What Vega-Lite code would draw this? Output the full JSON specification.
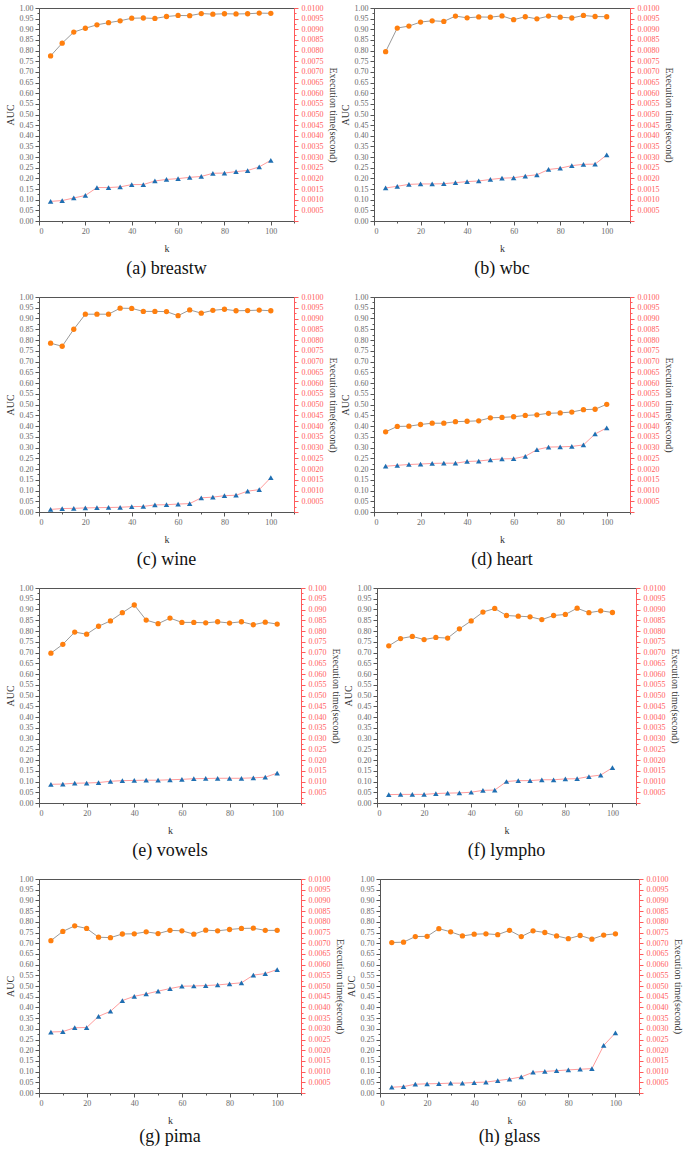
{
  "$schema": "https://vega.github.io/schema/vega-lite/v6.json",
  "padding": {"left": 4, "top": 3, "right": 2, "bottom": 0},
  "background": "white",
  "spacing": 13,
  "config": {
    "font": "Liberation Serif",
    "view": {"stroke": "#555", "strokeWidth": 1},
    "axis": {"grid": false, "labelFont": "Liberation Serif", "titleFont": "Liberation Serif", "labelFontSize": 8, "titleFontSize": 10, "titleFontWeight": "normal", "domainColor": "#555", "tickColor": "#555", "labelColor": "#6a6a6a", "titleColor": "#333", "labelPadding": 2},
    "axisBottom": {"labelColor": "#6a6a6a", "titleColor": "#333"},
    "axisRight": {"domainColor": "#ff5a5a", "tickColor": "#ff5a5a", "labelColor": "#ff6060", "titleColor": "#333", "labelPadding": 3},
    "title": {"font": "Liberation Serif", "fontSize": 18, "fontWeight": "normal", "color": "#111"}
  },
  "datasets": {
    "breastw": [
      {"k":5,"auc":0.775,"time":0.00092},{"k":10,"auc":0.835,"time":0.00096},{"k":15,"auc":0.887,"time":0.00108},{"k":20,"auc":0.905,"time":0.0012},{"k":25,"auc":0.921,"time":0.00157},{"k":30,"auc":0.931,"time":0.00157},{"k":35,"auc":0.94,"time":0.0016},{"k":40,"auc":0.952,"time":0.00171},{"k":45,"auc":0.953,"time":0.00171},{"k":50,"auc":0.951,"time":0.00188},{"k":55,"auc":0.96,"time":0.00195},{"k":60,"auc":0.965,"time":0.00199},{"k":65,"auc":0.964,"time":0.00205},{"k":70,"auc":0.974,"time":0.00209},{"k":75,"auc":0.971,"time":0.00224},{"k":80,"auc":0.973,"time":0.00225},{"k":85,"auc":0.972,"time":0.00232},{"k":90,"auc":0.973,"time":0.00237},{"k":95,"auc":0.976,"time":0.00254},{"k":100,"auc":0.975,"time":0.00285}
    ],
    "wbc": [
      {"k":5,"auc":0.795,"time":0.00155},{"k":10,"auc":0.906,"time":0.00163},{"k":15,"auc":0.915,"time":0.00172},{"k":20,"auc":0.934,"time":0.00174},{"k":25,"auc":0.94,"time":0.00174},{"k":30,"auc":0.937,"time":0.00175},{"k":35,"auc":0.962,"time":0.0018},{"k":40,"auc":0.954,"time":0.00185},{"k":45,"auc":0.958,"time":0.00188},{"k":50,"auc":0.957,"time":0.00195},{"k":55,"auc":0.963,"time":0.00201},{"k":60,"auc":0.945,"time":0.00203},{"k":65,"auc":0.959,"time":0.00211},{"k":70,"auc":0.949,"time":0.00217},{"k":75,"auc":0.962,"time":0.00242},{"k":80,"auc":0.957,"time":0.00248},{"k":85,"auc":0.953,"time":0.0026},{"k":90,"auc":0.965,"time":0.00266},{"k":95,"auc":0.96,"time":0.00267},{"k":100,"auc":0.959,"time":0.0031}
    ],
    "wine": [
      {"k":5,"auc":0.785,"time":0.00012},{"k":10,"auc":0.771,"time":0.00016},{"k":15,"auc":0.85,"time":0.00017},{"k":20,"auc":0.92,"time":0.00019},{"k":25,"auc":0.92,"time":0.0002},{"k":30,"auc":0.92,"time":0.00021},{"k":35,"auc":0.948,"time":0.00022},{"k":40,"auc":0.947,"time":0.00025},{"k":45,"auc":0.933,"time":0.00026},{"k":50,"auc":0.933,"time":0.00033},{"k":55,"auc":0.932,"time":0.00034},{"k":60,"auc":0.913,"time":0.00037},{"k":65,"auc":0.94,"time":0.00039},{"k":70,"auc":0.925,"time":0.00066},{"k":75,"auc":0.938,"time":0.00069},{"k":80,"auc":0.943,"time":0.00076},{"k":85,"auc":0.936,"time":0.00078},{"k":90,"auc":0.937,"time":0.00097},{"k":95,"auc":0.939,"time":0.00104},{"k":100,"auc":0.936,"time":0.0016}
    ],
    "heart": [
      {"k":5,"auc":0.373,"time":0.00213},{"k":10,"auc":0.398,"time":0.00217},{"k":15,"auc":0.399,"time":0.00221},{"k":20,"auc":0.407,"time":0.00223},{"k":25,"auc":0.413,"time":0.00226},{"k":30,"auc":0.413,"time":0.00227},{"k":35,"auc":0.42,"time":0.00227},{"k":40,"auc":0.422,"time":0.00235},{"k":45,"auc":0.424,"time":0.00237},{"k":50,"auc":0.438,"time":0.00243},{"k":55,"auc":0.44,"time":0.00247},{"k":60,"auc":0.443,"time":0.00248},{"k":65,"auc":0.449,"time":0.00259},{"k":70,"auc":0.452,"time":0.0029},{"k":75,"auc":0.459,"time":0.00302},{"k":80,"auc":0.461,"time":0.00303},{"k":85,"auc":0.465,"time":0.00305},{"k":90,"auc":0.476,"time":0.00312},{"k":95,"auc":0.478,"time":0.00363},{"k":100,"auc":0.501,"time":0.00391}
    ],
    "vowels": [
      {"k":5,"auc":0.697,"time":0.0087},{"k":10,"auc":0.738,"time":0.0088},{"k":15,"auc":0.795,"time":0.0092},{"k":20,"auc":0.785,"time":0.0093},{"k":25,"auc":0.822,"time":0.0095},{"k":30,"auc":0.847,"time":0.0101},{"k":35,"auc":0.885,"time":0.0104},{"k":40,"auc":0.921,"time":0.0105},{"k":45,"auc":0.851,"time":0.0106},{"k":50,"auc":0.834,"time":0.0106},{"k":55,"auc":0.86,"time":0.0108},{"k":60,"auc":0.84,"time":0.011},{"k":65,"auc":0.84,"time":0.0113},{"k":70,"auc":0.838,"time":0.0114},{"k":75,"auc":0.843,"time":0.0115},{"k":80,"auc":0.837,"time":0.0115},{"k":85,"auc":0.843,"time":0.0115},{"k":90,"auc":0.829,"time":0.0117},{"k":95,"auc":0.841,"time":0.012},{"k":100,"auc":0.832,"time":0.0139}
    ],
    "lympho": [
      {"k":5,"auc":0.731,"time":0.00039},{"k":10,"auc":0.765,"time":0.0004},{"k":15,"auc":0.775,"time":0.0004},{"k":20,"auc":0.76,"time":0.0004},{"k":25,"auc":0.77,"time":0.00044},{"k":30,"auc":0.767,"time":0.00046},{"k":35,"auc":0.81,"time":0.00047},{"k":40,"auc":0.847,"time":0.0005},{"k":45,"auc":0.888,"time":0.00059},{"k":50,"auc":0.905,"time":0.0006},{"k":55,"auc":0.872,"time":0.001},{"k":60,"auc":0.869,"time":0.00104},{"k":65,"auc":0.866,"time":0.00104},{"k":70,"auc":0.853,"time":0.00108},{"k":75,"auc":0.872,"time":0.00108},{"k":80,"auc":0.877,"time":0.00112},{"k":85,"auc":0.906,"time":0.00113},{"k":90,"auc":0.885,"time":0.00123},{"k":95,"auc":0.894,"time":0.0013},{"k":100,"auc":0.886,"time":0.00164}
    ],
    "pima": [
      {"k":5,"auc":0.712,"time":0.00285},{"k":10,"auc":0.755,"time":0.00287},{"k":15,"auc":0.781,"time":0.00305},{"k":20,"auc":0.769,"time":0.00306},{"k":25,"auc":0.728,"time":0.00358},{"k":30,"auc":0.726,"time":0.00382},{"k":35,"auc":0.743,"time":0.00432},{"k":40,"auc":0.744,"time":0.00452},{"k":45,"auc":0.753,"time":0.00463},{"k":50,"auc":0.745,"time":0.00476},{"k":55,"auc":0.76,"time":0.00488},{"k":60,"auc":0.758,"time":0.00499},{"k":65,"auc":0.742,"time":0.005},{"k":70,"auc":0.761,"time":0.00502},{"k":75,"auc":0.758,"time":0.00505},{"k":80,"auc":0.764,"time":0.0051},{"k":85,"auc":0.769,"time":0.00515},{"k":90,"auc":0.77,"time":0.00551},{"k":95,"auc":0.76,"time":0.00558},{"k":100,"auc":0.76,"time":0.00577}
    ],
    "glass": [
      {"k":5,"auc":0.703,"time":0.00027},{"k":10,"auc":0.705,"time":0.0003},{"k":15,"auc":0.731,"time":0.00041},{"k":20,"auc":0.732,"time":0.00043},{"k":25,"auc":0.768,"time":0.00044},{"k":30,"auc":0.753,"time":0.00046},{"k":35,"auc":0.734,"time":0.00046},{"k":40,"auc":0.742,"time":0.00049},{"k":45,"auc":0.744,"time":0.00051},{"k":50,"auc":0.74,"time":0.00058},{"k":55,"auc":0.76,"time":0.00065},{"k":60,"auc":0.731,"time":0.00075},{"k":65,"auc":0.758,"time":0.00097},{"k":70,"auc":0.75,"time":0.00101},{"k":75,"auc":0.734,"time":0.00104},{"k":80,"auc":0.721,"time":0.00108},{"k":85,"auc":0.736,"time":0.00111},{"k":90,"auc":0.719,"time":0.00114},{"k":95,"auc":0.738,"time":0.00222},{"k":100,"auc":0.744,"time":0.00281}
    ]
  },
  "vconcat": [
    {"spacing": 1, "hconcat": [
      {"title": {"text": "(a) breastw", "orient": "bottom", "offset": 7}, "width": 255, "height": 213, "data": {"name": "breastw"},
       "encoding": {"x": {"field": "k", "type": "quantitative", "scale": {"domain": [0, 110], "nice": false}, "axis": {"title": "k", "titlePadding": 8, "values": [0,10,20,30,40,50,60,70,80,90,100,110], "labelExpr": "datum.value % 20 == 0 && datum.value <= 100 ? datum.value : ''", "tickSize": {"condition": {"test": "datum.value % 20 == 0", "value": 4}, "value": 2}}}},
       "layer": [
        {"encoding": {
           "y": {"field": "auc", "type": "quantitative", "scale": {"domain": [0, 1], "nice": false}, "axis": {"title": "AUC", "titlePadding": 4, "values": [0,0.025,0.05,0.075,0.1,0.125,0.15,0.175,0.2,0.225,0.25,0.275,0.3,0.325,0.35,0.375,0.4,0.425,0.45,0.475,0.5,0.525,0.55,0.575,0.6,0.625,0.65,0.675,0.7,0.725,0.75,0.775,0.8,0.825,0.85,0.875,0.9,0.925,0.95,0.975,1], "labelExpr": "round(datum.value*40) % 2 == 0 ? format(datum.value, '.2f') : ''", "tickSize": {"condition": {"test": "round(datum.value*40) % 2 == 0", "value": 4}, "value": 2}}}},
         "layer": [
           {"mark": {"type": "line", "color": "#9a9a9a", "strokeWidth": 1}, "encoding": {}},
           {"mark": {"type": "point", "shape": "circle", "filled": true, "color": "#ff7f0e", "size": 28, "opacity": 1}, "encoding": {}}
         ]},
        {"encoding": {
           "y": {"field": "time", "type": "quantitative", "scale": {"domain": [0, 0.01], "nice": false}, "axis": {"orient": "right", "title": "Execution time(second)", "titlePadding": 4, "values": [0,0.00025,0.0005,0.00075,0.001,0.00125,0.0015,0.00175,0.002,0.00225,0.0025,0.00275,0.003,0.00325,0.0035,0.00375,0.004,0.00425,0.0045,0.00475,0.005,0.00525,0.0055,0.00575,0.006,0.00625,0.0065,0.00675,0.007,0.00725,0.0075,0.00775,0.008,0.00825,0.0085,0.00875,0.009,0.00925,0.0095,0.00975,0.01], "labelExpr": "round(datum.value*4000) % 2 == 0 && datum.value > 0 ? format(datum.value, '.4f') : ''", "tickSize": {"condition": {"test": "round(datum.value*4000) % 2 == 0", "value": 4}, "value": 2}}}},
         "layer": [
           {"mark": {"type": "line", "color": "#ff9c9c", "strokeWidth": 1}, "encoding": {}},
           {"mark": {"type": "point", "shape": "triangle-up", "filled": true, "color": "#1f6fb2", "size": 30, "opacity": 1}, "encoding": {}}
         ]}
       ],
       "resolve": {"scale": {"y": "independent"}}},
      {"title": {"text": "(b) wbc", "orient": "bottom", "offset": 7}, "width": 256, "height": 213, "data": {"name": "wbc"},
       "encoding": {"x": {"field": "k", "type": "quantitative", "scale": {"domain": [0, 110], "nice": false}, "axis": {"title": "k", "titlePadding": 8, "values": [0,10,20,30,40,50,60,70,80,90,100,110], "labelExpr": "datum.value % 20 == 0 && datum.value <= 100 ? datum.value : ''", "tickSize": {"condition": {"test": "datum.value % 20 == 0", "value": 4}, "value": 2}}}},
       "layer": [
        {"encoding": {
           "y": {"field": "auc", "type": "quantitative", "scale": {"domain": [0, 1], "nice": false}, "axis": {"title": "AUC", "titlePadding": 4, "values": [0,0.025,0.05,0.075,0.1,0.125,0.15,0.175,0.2,0.225,0.25,0.275,0.3,0.325,0.35,0.375,0.4,0.425,0.45,0.475,0.5,0.525,0.55,0.575,0.6,0.625,0.65,0.675,0.7,0.725,0.75,0.775,0.8,0.825,0.85,0.875,0.9,0.925,0.95,0.975,1], "labelExpr": "round(datum.value*40) % 2 == 0 ? format(datum.value, '.2f') : ''", "tickSize": {"condition": {"test": "round(datum.value*40) % 2 == 0", "value": 4}, "value": 2}}}},
         "layer": [
           {"mark": {"type": "line", "color": "#9a9a9a", "strokeWidth": 1}, "encoding": {}},
           {"mark": {"type": "point", "shape": "circle", "filled": true, "color": "#ff7f0e", "size": 28, "opacity": 1}, "encoding": {}}
         ]},
        {"encoding": {
           "y": {"field": "time", "type": "quantitative", "scale": {"domain": [0, 0.01], "nice": false}, "axis": {"orient": "right", "title": "Execution time(second)", "titlePadding": 4, "values": [0,0.00025,0.0005,0.00075,0.001,0.00125,0.0015,0.00175,0.002,0.00225,0.0025,0.00275,0.003,0.00325,0.0035,0.00375,0.004,0.00425,0.0045,0.00475,0.005,0.00525,0.0055,0.00575,0.006,0.00625,0.0065,0.00675,0.007,0.00725,0.0075,0.00775,0.008,0.00825,0.0085,0.00875,0.009,0.00925,0.0095,0.00975,0.01], "labelExpr": "round(datum.value*4000) % 2 == 0 && datum.value > 0 ? format(datum.value, '.4f') : ''", "tickSize": {"condition": {"test": "round(datum.value*4000) % 2 == 0", "value": 4}, "value": 2}}}},
         "layer": [
           {"mark": {"type": "line", "color": "#ff9c9c", "strokeWidth": 1}, "encoding": {}},
           {"mark": {"type": "point", "shape": "triangle-up", "filled": true, "color": "#1f6fb2", "size": 30, "opacity": 1}, "encoding": {}}
         ]}
       ],
       "resolve": {"scale": {"y": "independent"}}}
    ]},
    {"spacing": 1, "hconcat": [
      {"title": {"text": "(c) wine", "orient": "bottom", "offset": 7}, "width": 255, "height": 215, "data": {"name": "wine"},
       "encoding": {"x": {"field": "k", "type": "quantitative", "scale": {"domain": [0, 110], "nice": false}, "axis": {"title": "k", "titlePadding": 8, "values": [0,10,20,30,40,50,60,70,80,90,100,110], "labelExpr": "datum.value % 20 == 0 && datum.value <= 100 ? datum.value : ''", "tickSize": {"condition": {"test": "datum.value % 20 == 0", "value": 4}, "value": 2}}}},
       "layer": [
        {"encoding": {
           "y": {"field": "auc", "type": "quantitative", "scale": {"domain": [0, 1], "nice": false}, "axis": {"title": "AUC", "titlePadding": 4, "values": [0,0.025,0.05,0.075,0.1,0.125,0.15,0.175,0.2,0.225,0.25,0.275,0.3,0.325,0.35,0.375,0.4,0.425,0.45,0.475,0.5,0.525,0.55,0.575,0.6,0.625,0.65,0.675,0.7,0.725,0.75,0.775,0.8,0.825,0.85,0.875,0.9,0.925,0.95,0.975,1], "labelExpr": "round(datum.value*40) % 2 == 0 ? format(datum.value, '.2f') : ''", "tickSize": {"condition": {"test": "round(datum.value*40) % 2 == 0", "value": 4}, "value": 2}}}},
         "layer": [
           {"mark": {"type": "line", "color": "#9a9a9a", "strokeWidth": 1}, "encoding": {}},
           {"mark": {"type": "point", "shape": "circle", "filled": true, "color": "#ff7f0e", "size": 28, "opacity": 1}, "encoding": {}}
         ]},
        {"encoding": {
           "y": {"field": "time", "type": "quantitative", "scale": {"domain": [0, 0.01], "nice": false}, "axis": {"orient": "right", "title": "Execution time(second)", "titlePadding": 4, "values": [0,0.00025,0.0005,0.00075,0.001,0.00125,0.0015,0.00175,0.002,0.00225,0.0025,0.00275,0.003,0.00325,0.0035,0.00375,0.004,0.00425,0.0045,0.00475,0.005,0.00525,0.0055,0.00575,0.006,0.00625,0.0065,0.00675,0.007,0.00725,0.0075,0.00775,0.008,0.00825,0.0085,0.00875,0.009,0.00925,0.0095,0.00975,0.01], "labelExpr": "round(datum.value*4000) % 2 == 0 && datum.value > 0 ? format(datum.value, '.4f') : ''", "tickSize": {"condition": {"test": "round(datum.value*4000) % 2 == 0", "value": 4}, "value": 2}}}},
         "layer": [
           {"mark": {"type": "line", "color": "#ff9c9c", "strokeWidth": 1}, "encoding": {}},
           {"mark": {"type": "point", "shape": "triangle-up", "filled": true, "color": "#1f6fb2", "size": 30, "opacity": 1}, "encoding": {}}
         ]}
       ],
       "resolve": {"scale": {"y": "independent"}}},
      {"title": {"text": "(d) heart", "orient": "bottom", "offset": 7}, "width": 256, "height": 215, "data": {"name": "heart"},
       "encoding": {"x": {"field": "k", "type": "quantitative", "scale": {"domain": [0, 110], "nice": false}, "axis": {"title": "k", "titlePadding": 8, "values": [0,10,20,30,40,50,60,70,80,90,100,110], "labelExpr": "datum.value % 20 == 0 && datum.value <= 100 ? datum.value : ''", "tickSize": {"condition": {"test": "datum.value % 20 == 0", "value": 4}, "value": 2}}}},
       "layer": [
        {"encoding": {
           "y": {"field": "auc", "type": "quantitative", "scale": {"domain": [0, 1], "nice": false}, "axis": {"title": "AUC", "titlePadding": 4, "values": [0,0.025,0.05,0.075,0.1,0.125,0.15,0.175,0.2,0.225,0.25,0.275,0.3,0.325,0.35,0.375,0.4,0.425,0.45,0.475,0.5,0.525,0.55,0.575,0.6,0.625,0.65,0.675,0.7,0.725,0.75,0.775,0.8,0.825,0.85,0.875,0.9,0.925,0.95,0.975,1], "labelExpr": "round(datum.value*40) % 2 == 0 ? format(datum.value, '.2f') : ''", "tickSize": {"condition": {"test": "round(datum.value*40) % 2 == 0", "value": 4}, "value": 2}}}},
         "layer": [
           {"mark": {"type": "line", "color": "#9a9a9a", "strokeWidth": 1}, "encoding": {}},
           {"mark": {"type": "point", "shape": "circle", "filled": true, "color": "#ff7f0e", "size": 28, "opacity": 1}, "encoding": {}}
         ]},
        {"encoding": {
           "y": {"field": "time", "type": "quantitative", "scale": {"domain": [0, 0.01], "nice": false}, "axis": {"orient": "right", "title": "Execution time(second)", "titlePadding": 4, "values": [0,0.00025,0.0005,0.00075,0.001,0.00125,0.0015,0.00175,0.002,0.00225,0.0025,0.00275,0.003,0.00325,0.0035,0.00375,0.004,0.00425,0.0045,0.00475,0.005,0.00525,0.0055,0.00575,0.006,0.00625,0.0065,0.00675,0.007,0.00725,0.0075,0.00775,0.008,0.00825,0.0085,0.00875,0.009,0.00925,0.0095,0.00975,0.01], "labelExpr": "round(datum.value*4000) % 2 == 0 && datum.value > 0 ? format(datum.value, '.4f') : ''", "tickSize": {"condition": {"test": "round(datum.value*4000) % 2 == 0", "value": 4}, "value": 2}}}},
         "layer": [
           {"mark": {"type": "line", "color": "#ff9c9c", "strokeWidth": 1}, "encoding": {}},
           {"mark": {"type": "point", "shape": "triangle-up", "filled": true, "color": "#1f6fb2", "size": 30, "opacity": 1}, "encoding": {}}
         ]}
       ],
       "resolve": {"scale": {"y": "independent"}}}
    ]},
    {"spacing": 1, "hconcat": [
      {"title": {"text": "(e) vowels", "orient": "bottom", "offset": 7}, "width": 262, "height": 215, "data": {"name": "vowels"},
       "encoding": {"x": {"field": "k", "type": "quantitative", "scale": {"domain": [0, 110], "nice": false}, "axis": {"title": "k", "titlePadding": 8, "values": [0,10,20,30,40,50,60,70,80,90,100,110], "labelExpr": "datum.value % 20 == 0 && datum.value <= 100 ? datum.value : ''", "tickSize": {"condition": {"test": "datum.value % 20 == 0", "value": 4}, "value": 2}}}},
       "layer": [
        {"encoding": {
           "y": {"field": "auc", "type": "quantitative", "scale": {"domain": [0, 1], "nice": false}, "axis": {"title": "AUC", "titlePadding": 4, "values": [0,0.025,0.05,0.075,0.1,0.125,0.15,0.175,0.2,0.225,0.25,0.275,0.3,0.325,0.35,0.375,0.4,0.425,0.45,0.475,0.5,0.525,0.55,0.575,0.6,0.625,0.65,0.675,0.7,0.725,0.75,0.775,0.8,0.825,0.85,0.875,0.9,0.925,0.95,0.975,1], "labelExpr": "round(datum.value*40) % 2 == 0 ? format(datum.value, '.2f') : ''", "tickSize": {"condition": {"test": "round(datum.value*40) % 2 == 0", "value": 4}, "value": 2}}}},
         "layer": [
           {"mark": {"type": "line", "color": "#9a9a9a", "strokeWidth": 1}, "encoding": {}},
           {"mark": {"type": "point", "shape": "circle", "filled": true, "color": "#ff7f0e", "size": 28, "opacity": 1}, "encoding": {}}
         ]},
        {"encoding": {
           "y": {"field": "time", "type": "quantitative", "scale": {"domain": [0, 0.1], "nice": false}, "axis": {"orient": "right", "title": "Execution time(second)", "titlePadding": 4, "values": [0,0.0025,0.005,0.0075,0.01,0.0125,0.015,0.0175,0.02,0.0225,0.025,0.0275,0.03,0.0325,0.035,0.0375,0.04,0.0425,0.045,0.0475,0.05,0.0525,0.055,0.0575,0.06,0.0625,0.065,0.0675,0.07,0.0725,0.075,0.0775,0.08,0.0825,0.085,0.0875,0.09,0.0925,0.095,0.0975,0.1], "labelExpr": "round(datum.value*400) % 2 == 0 && datum.value > 0 ? format(datum.value, '.3f') : ''", "tickSize": {"condition": {"test": "round(datum.value*400) % 2 == 0", "value": 4}, "value": 2}}}},
         "layer": [
           {"mark": {"type": "line", "color": "#ff9c9c", "strokeWidth": 1}, "encoding": {}},
           {"mark": {"type": "point", "shape": "triangle-up", "filled": true, "color": "#1f6fb2", "size": 30, "opacity": 1}, "encoding": {}}
         ]}
       ],
       "resolve": {"scale": {"y": "independent"}}},
      {"title": {"text": "(f) lympho", "orient": "bottom", "offset": 7}, "width": 259, "height": 215, "data": {"name": "lympho"},
       "encoding": {"x": {"field": "k", "type": "quantitative", "scale": {"domain": [0, 110], "nice": false}, "axis": {"title": "k", "titlePadding": 8, "values": [0,10,20,30,40,50,60,70,80,90,100,110], "labelExpr": "datum.value % 20 == 0 && datum.value <= 100 ? datum.value : ''", "tickSize": {"condition": {"test": "datum.value % 20 == 0", "value": 4}, "value": 2}}}},
       "layer": [
        {"encoding": {
           "y": {"field": "auc", "type": "quantitative", "scale": {"domain": [0, 1], "nice": false}, "axis": {"title": "AUC", "titlePadding": 4, "values": [0,0.025,0.05,0.075,0.1,0.125,0.15,0.175,0.2,0.225,0.25,0.275,0.3,0.325,0.35,0.375,0.4,0.425,0.45,0.475,0.5,0.525,0.55,0.575,0.6,0.625,0.65,0.675,0.7,0.725,0.75,0.775,0.8,0.825,0.85,0.875,0.9,0.925,0.95,0.975,1], "labelExpr": "round(datum.value*40) % 2 == 0 ? format(datum.value, '.2f') : ''", "tickSize": {"condition": {"test": "round(datum.value*40) % 2 == 0", "value": 4}, "value": 2}}}},
         "layer": [
           {"mark": {"type": "line", "color": "#9a9a9a", "strokeWidth": 1}, "encoding": {}},
           {"mark": {"type": "point", "shape": "circle", "filled": true, "color": "#ff7f0e", "size": 28, "opacity": 1}, "encoding": {}}
         ]},
        {"encoding": {
           "y": {"field": "time", "type": "quantitative", "scale": {"domain": [0, 0.01], "nice": false}, "axis": {"orient": "right", "title": "Execution time(second)", "titlePadding": 4, "values": [0,0.00025,0.0005,0.00075,0.001,0.00125,0.0015,0.00175,0.002,0.00225,0.0025,0.00275,0.003,0.00325,0.0035,0.00375,0.004,0.00425,0.0045,0.00475,0.005,0.00525,0.0055,0.00575,0.006,0.00625,0.0065,0.00675,0.007,0.00725,0.0075,0.00775,0.008,0.00825,0.0085,0.00875,0.009,0.00925,0.0095,0.00975,0.01], "labelExpr": "round(datum.value*4000) % 2 == 0 && datum.value > 0 ? format(datum.value, '.4f') : ''", "tickSize": {"condition": {"test": "round(datum.value*4000) % 2 == 0", "value": 4}, "value": 2}}}},
         "layer": [
           {"mark": {"type": "line", "color": "#ff9c9c", "strokeWidth": 1}, "encoding": {}},
           {"mark": {"type": "point", "shape": "triangle-up", "filled": true, "color": "#1f6fb2", "size": 30, "opacity": 1}, "encoding": {}}
         ]}
       ],
       "resolve": {"scale": {"y": "independent"}}}
    ]},
    {"spacing": 0, "hconcat": [
      {"title": {"text": "(g) pima", "orient": "bottom", "offset": 3}, "width": 262, "height": 214, "data": {"name": "pima"},
       "encoding": {"x": {"field": "k", "type": "quantitative", "scale": {"domain": [0, 110], "nice": false}, "axis": {"title": "k", "titlePadding": 8, "values": [0,10,20,30,40,50,60,70,80,90,100,110], "labelExpr": "datum.value % 20 == 0 && datum.value <= 100 ? datum.value : ''", "tickSize": {"condition": {"test": "datum.value % 20 == 0", "value": 4}, "value": 2}}}},
       "layer": [
        {"encoding": {
           "y": {"field": "auc", "type": "quantitative", "scale": {"domain": [0, 1], "nice": false}, "axis": {"title": "AUC", "titlePadding": 4, "values": [0,0.025,0.05,0.075,0.1,0.125,0.15,0.175,0.2,0.225,0.25,0.275,0.3,0.325,0.35,0.375,0.4,0.425,0.45,0.475,0.5,0.525,0.55,0.575,0.6,0.625,0.65,0.675,0.7,0.725,0.75,0.775,0.8,0.825,0.85,0.875,0.9,0.925,0.95,0.975,1], "labelExpr": "round(datum.value*40) % 2 == 0 ? format(datum.value, '.2f') : ''", "tickSize": {"condition": {"test": "round(datum.value*40) % 2 == 0", "value": 4}, "value": 2}}}},
         "layer": [
           {"mark": {"type": "line", "color": "#9a9a9a", "strokeWidth": 1}, "encoding": {}},
           {"mark": {"type": "point", "shape": "circle", "filled": true, "color": "#ff7f0e", "size": 28, "opacity": 1}, "encoding": {}}
         ]},
        {"encoding": {
           "y": {"field": "time", "type": "quantitative", "scale": {"domain": [0, 0.01], "nice": false}, "axis": {"orient": "right", "title": "Execution time(second)", "titlePadding": 4, "values": [0,0.00025,0.0005,0.00075,0.001,0.00125,0.0015,0.00175,0.002,0.00225,0.0025,0.00275,0.003,0.00325,0.0035,0.00375,0.004,0.00425,0.0045,0.00475,0.005,0.00525,0.0055,0.00575,0.006,0.00625,0.0065,0.00675,0.007,0.00725,0.0075,0.00775,0.008,0.00825,0.0085,0.00875,0.009,0.00925,0.0095,0.00975,0.01], "labelExpr": "round(datum.value*4000) % 2 == 0 && datum.value > 0 ? format(datum.value, '.4f') : ''", "tickSize": {"condition": {"test": "round(datum.value*4000) % 2 == 0", "value": 4}, "value": 2}}}},
         "layer": [
           {"mark": {"type": "line", "color": "#ff9c9c", "strokeWidth": 1}, "encoding": {}},
           {"mark": {"type": "point", "shape": "triangle-up", "filled": true, "color": "#1f6fb2", "size": 30, "opacity": 1}, "encoding": {}}
         ]}
       ],
       "resolve": {"scale": {"y": "independent"}}},
      {"title": {"text": "(h) glass", "orient": "bottom", "offset": 3}, "width": 259, "height": 214, "data": {"name": "glass"},
       "encoding": {"x": {"field": "k", "type": "quantitative", "scale": {"domain": [0, 110], "nice": false}, "axis": {"title": "k", "titlePadding": 8, "values": [0,10,20,30,40,50,60,70,80,90,100,110], "labelExpr": "datum.value % 20 == 0 && datum.value <= 100 ? datum.value : ''", "tickSize": {"condition": {"test": "datum.value % 20 == 0", "value": 4}, "value": 2}}}},
       "layer": [
        {"encoding": {
           "y": {"field": "auc", "type": "quantitative", "scale": {"domain": [0, 1], "nice": false}, "axis": {"title": "AUC", "titlePadding": 4, "values": [0,0.025,0.05,0.075,0.1,0.125,0.15,0.175,0.2,0.225,0.25,0.275,0.3,0.325,0.35,0.375,0.4,0.425,0.45,0.475,0.5,0.525,0.55,0.575,0.6,0.625,0.65,0.675,0.7,0.725,0.75,0.775,0.8,0.825,0.85,0.875,0.9,0.925,0.95,0.975,1], "labelExpr": "round(datum.value*40) % 2 == 0 ? format(datum.value, '.2f') : ''", "tickSize": {"condition": {"test": "round(datum.value*40) % 2 == 0", "value": 4}, "value": 2}}}},
         "layer": [
           {"mark": {"type": "line", "color": "#9a9a9a", "strokeWidth": 1}, "encoding": {}},
           {"mark": {"type": "point", "shape": "circle", "filled": true, "color": "#ff7f0e", "size": 28, "opacity": 1}, "encoding": {}}
         ]},
        {"encoding": {
           "y": {"field": "time", "type": "quantitative", "scale": {"domain": [0, 0.01], "nice": false}, "axis": {"orient": "right", "title": "Execution time(second)", "titlePadding": 4, "values": [0,0.00025,0.0005,0.00075,0.001,0.00125,0.0015,0.00175,0.002,0.00225,0.0025,0.00275,0.003,0.00325,0.0035,0.00375,0.004,0.00425,0.0045,0.00475,0.005,0.00525,0.0055,0.00575,0.006,0.00625,0.0065,0.00675,0.007,0.00725,0.0075,0.00775,0.008,0.00825,0.0085,0.00875,0.009,0.00925,0.0095,0.00975,0.01], "labelExpr": "round(datum.value*4000) % 2 == 0 && datum.value > 0 ? format(datum.value, '.4f') : ''", "tickSize": {"condition": {"test": "round(datum.value*4000) % 2 == 0", "value": 4}, "value": 2}}}},
         "layer": [
           {"mark": {"type": "line", "color": "#ff9c9c", "strokeWidth": 1}, "encoding": {}},
           {"mark": {"type": "point", "shape": "triangle-up", "filled": true, "color": "#1f6fb2", "size": 30, "opacity": 1}, "encoding": {}}
         ]}
       ],
       "resolve": {"scale": {"y": "independent"}}}
    ]}
  ]
}
